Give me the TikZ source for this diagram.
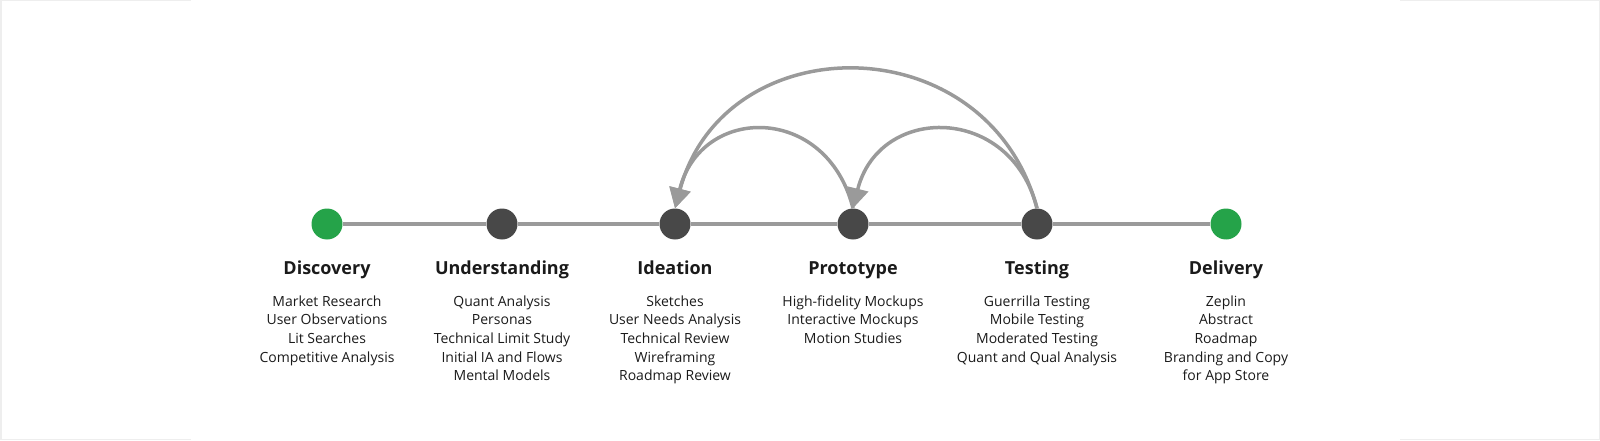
\documentclass[tikz,border=0pt]{standalone}
\usepackage{fontspec}
\setmainfont{Open Sans}
\usetikzlibrary{arrows.meta}
\definecolor{stagegreen}{HTML}{25A349}
\definecolor{stagedark}{HTML}{484848}
\definecolor{linegray}{HTML}{9A9A9A}
\definecolor{framegray}{HTML}{EEEEEE}
\definecolor{txt}{HTML}{1A1A1A}
\tikzset{
  stage/.style={circle, inner sep=0pt, minimum size=31pt, fill=stagedark},
  endstage/.style={stage, fill=stagegreen},
  track/.style={draw=linegray, line width=3.5pt},
  loopback/.style={draw=linegray, line width=3.5pt, -{Triangle[length=20pt,width=21pt]}},
  title/.style={anchor=base, text=txt, font=\fontsize{18}{22}\selectfont\bfseries, inner sep=0pt},
  items/.style={anchor=north, text=txt, align=center, font=\fontsize{14}{18.6}\selectfont, inner sep=0pt},
  frame/.style={draw=framegray, line width=1.5pt}
}
\begin{document}
\begin{tikzpicture}[x=1pt,y=1pt]
\useasboundingbox (0,0) rectangle (1600,440);
% faint side frames
\draw[frame] (191,439.25) -- (0.75,439.25) -- (0.75,0.75) -- (191,0.75);
\draw[frame] (1400,439.25) -- (1599.25,439.25) -- (1599.25,0.75) -- (1400,0.75);
% stages
\node[endstage] (di) at (327,216) {};
\node[stage] (un) at (502,216) {};
\node[stage] (id) at (675,216) {};
\node[stage] (pr) at (853,216) {};
\node[stage] (te) at (1037,216) {};
\node[endstage] (de) at (1226,216) {};
% track
\draw[track] (di) -- (un);
\draw[track] (un) -- (id);
\draw[track] (id) -- (pr);
\draw[track] (pr) -- (te);
\draw[track] (te) -- (de);
% loop-backs
\draw[loopback] (te.north) to[out=105,in=75,looseness=1.35] (id.north);
\draw[loopback] (pr.north) to[out=104,in=76,looseness=1.55] (id.north);
\draw[loopback] (te.north) to[out=104,in=76,looseness=1.5] (pr.north);
% titles
\node[title] (tdi) at (327,166) {Discovery};
\node[title] (tun) at (502,166) {Understanding};
\node[title] (tid) at (675,166) {Ideation};
\node[title] (tpr) at (853,166) {Prototype};
\node[title] (tte) at (1037,166) {Testing};
\node[title] (tde) at (1226,166) {Delivery};
% item lists
\node[items] (ldi) at (327,144.6) {Market Research\\User Observations\\Lit Searches\\Competitive Analysis};
\node[items] (lun) at (502,144.6) {Quant Analysis\\Personas\\Technical Limit Study\\Initial IA and Flows\\Mental Models};
\node[items] (lid) at (675,144.6) {Sketches\\User Needs Analysis\\Technical Review\\Wireframing\\Roadmap Review};
\node[items] (lpr) at (853,144.6) {High-fidelity Mockups\\Interactive Mockups\\Motion Studies};
\node[items] (lte) at (1037,144.6) {Guerrilla Testing\\Mobile Testing\\Moderated Testing\\Quant and Qual Analysis};
\node[items] (lde) at (1226,144.6) {Zeplin\\Abstract\\Roadmap\\Branding and Copy\\for App Store};
\end{tikzpicture}
\end{document}
